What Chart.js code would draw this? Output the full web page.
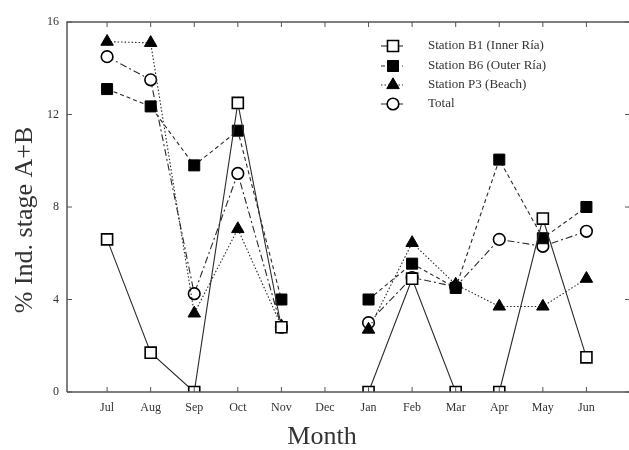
<!DOCTYPE html>
<html><head><meta charset="utf-8">
<script src="https://cdn.jsdelivr.net/npm/chart.js@4/dist/chart.umd.min.js"></script>
<style>html,body{margin:0;padding:0;overflow:hidden;background:#fff}</style>
</head><body>
<canvas id="c" width="640" height="450"></canvas>
<script>
const months = ['Jul','Aug','Sep','Oct','Nov','Dec','Jan','Feb','Mar','Apr','May','Jun'];
const stationB1 = [6.6, 1.7, 0, 12.5, 2.8, null, 0, 4.9, 0, 0, 7.5, 1.5];
const stationB6 = [13.1, 12.35, 9.8, 11.3, 4.0, null, 4.0, 5.55, 4.5, 10.05, 6.65, 8.0];
const stationP3 = [15.15, 15.1, 3.4, 7.05, 2.85, null, 2.7, 6.45, 4.65, 3.7, 3.7, 4.9];
const total = [14.5, 13.5, 4.25, 9.45, 2.8, null, 3.0, 4.95, 4.55, 6.6, 6.3, 6.95];
const yTicks = [0, 4, 8, 12, 16];
const seriesNames = ['Station B1 (Inner Ría)', 'Station B6 (Outer Ría)', 'Station P3 (Beach)', 'Total'];
const xTitle = 'Month';
const yTitle = '% Ind. stage A+B';

const toPts = arr => arr.map((v, i) => ({x: i, y: v}));
const FONT = "'Liberation Serif', 'DejaVu Serif', serif";
const LINE = '#2a2a2a';

const datasets = [
  {label: seriesNames[0], data: toPts(stationB1), borderDash: [], pointStyle: 'rect', pointRadius: 7.8, backgroundColor: '#fff', pointBorderWidth: 1.6},
  {label: seriesNames[1], data: toPts(stationB6), borderDash: [4, 3], pointStyle: 'rect', pointRadius: 7.8, backgroundColor: '#000', pointBorderWidth: 1},
  {label: seriesNames[2], data: toPts(stationP3), borderDash: [1.5, 2], pointStyle: 'triangle', pointRadius: 7.2, backgroundColor: '#000', pointBorderWidth: 1},
  {label: seriesNames[3], data: toPts(total), borderDash: [7, 3, 2, 3], pointStyle: 'circle', pointRadius: 5.8, backgroundColor: '#fff', pointBorderWidth: 1.6}
].map(d => Object.assign({
  borderColor: LINE, borderWidth: 1.1, pointBorderColor: '#000', pointBackgroundColor: d.backgroundColor,
  pointHoverRadius: d.pointRadius, spanGaps: false, tension: 0, fill: false
}, d));

const framePlugin = {
  id: 'frame',
  afterDatasetsDraw(chart) {
    const {ctx, chartArea: a, scales} = chart;
    ctx.save();
    ctx.strokeStyle = '#555';
    ctx.lineWidth = 1.5;
    ctx.beginPath();
    ctx.moveTo(a.left, a.bottom); ctx.lineTo(a.left, a.top); ctx.lineTo(a.right, a.top); ctx.lineTo(a.right, a.bottom); ctx.lineTo(a.left, a.bottom);
    ctx.stroke();
    ctx.lineWidth = 1;
    ctx.beginPath();
    months.forEach((m, i) => {
      const x = scales.x.getPixelForValue(i);
      ctx.moveTo(x, a.bottom); ctx.lineTo(x, a.bottom - 5);
      ctx.moveTo(x, a.top); ctx.lineTo(x, a.top + 5);
    });
    yTicks.forEach(v => {
      const y = scales.y.getPixelForValue(v);
      ctx.moveTo(a.left, y); ctx.lineTo(a.left + 5, y);
      ctx.moveTo(a.right, y); ctx.lineTo(a.right - 5, y);
    });
    ctx.stroke();
    // axis titles
    ctx.fillStyle = '#333';
    ctx.font = "26px " + FONT;
    ctx.textAlign = 'center';
    ctx.textBaseline = 'middle';
    ctx.fillText(xTitle, 322, 437);
    ctx.save();
    ctx.translate(25, 220);
    ctx.rotate(-Math.PI / 2);
    ctx.fillText(yTitle, 0, 0);
    ctx.restore();
    // legend
    const lx0 = 381, lx1 = 403, mx = 393, tx = 428;
    const rows = [46, 66, 85, 104];
    chart.data.datasets.forEach((ds, i) => {
      const y = rows[i];
      ctx.strokeStyle = LINE; ctx.lineWidth = 1.1;
      ctx.setLineDash(ds.borderDash);
      ctx.beginPath(); ctx.moveTo(lx0, y); ctx.lineTo(lx1, y); ctx.stroke();
      ctx.setLineDash([]);
      ctx.fillStyle = ds.backgroundColor; ctx.strokeStyle = '#000'; ctx.lineWidth = ds.pointBorderWidth;
      Chart.helpers.drawPoint(ctx, {pointStyle: ds.pointStyle, radius: ds.pointRadius, rotation: 0, borderWidth: ds.pointBorderWidth}, mx, y);
      ctx.fillStyle = '#333';
      ctx.font = "13px " + FONT;
      ctx.textBaseline = 'middle';
      ctx.textAlign = 'left';
      ctx.fillText(ds.label, tx, y);
    });
    ctx.restore();
  }
};

new Chart(document.getElementById('c'), {
  type: 'line',
  data: {datasets},
  options: {
    responsive: false,
    animation: false,
    layout: {padding: {top: 22, right: 10, left: 0, bottom: 0}},
    plugins: {legend: {display: false}, tooltip: {enabled: false}},
    scales: {
      x: {
        type: 'linear', min: -0.92, max: 12,
        grid: {display: false, drawTicks: false},
        border: {display: false},
        afterBuildTicks: s => { s.ticks = months.map((m, i) => ({value: i})); },
        ticks: {callback: v => months[v], color: '#333', font: {family: FONT, size: 12}, padding: 9, autoSkip: false, maxRotation: 0},
        title: {display: false},
        afterFit: s => { s.height = 58; }
      },
      y: {
        min: 0, max: 16,
        grid: {display: false, drawTicks: false},
        border: {display: false},
        afterBuildTicks: s => { s.ticks = yTicks.map(v => ({value: v})); },
        ticks: {color: '#333', font: {family: FONT, size: 12}, padding: 8},
        title: {display: false},
        afterFit: s => { s.width = 67; }
      }
    }
  },
  plugins: [framePlugin]
});
</script>
</body></html>
